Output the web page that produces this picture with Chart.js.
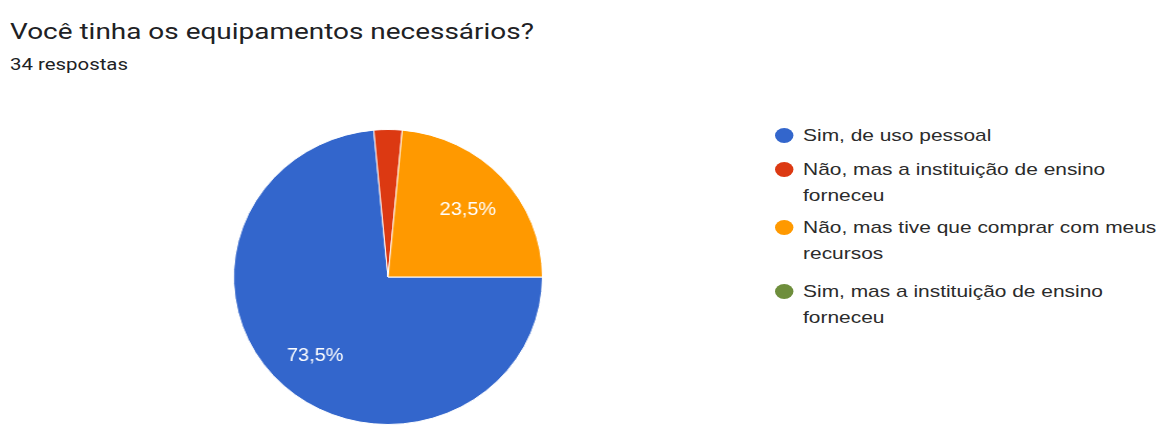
<!DOCTYPE html>
<html lang="pt">
<head>
    <meta charset="UTF-8">
    <title>Você tinha os equipamentos necessários?</title>
    <script src="https://cdn.jsdelivr.net/npm/chart.js"></script>
    <style>
        body {
            margin: 0;
            width: 1161px;
            height: 438px;
            background: #ffffff;
            position: relative;
            overflow: hidden;
            font-family: Roboto, Arial, sans-serif;
        }
        #title {
            position: absolute;
            left: 10px;
            top: 21px;
            font-size: 22px;
            line-height: 1;
            color: #202124;
            white-space: nowrap;
            transform: scaleX(1.27);
            transform-origin: left top;
        }
        #subtitle {
            position: absolute;
            left: 10px;
            top: 56px;
            font-size: 17px;
            line-height: 1;
            color: #202124;
            white-space: nowrap;
            transform: scaleX(1.2);
            transform-origin: left top;
        }
        #pieBox {
            position: absolute;
            left: 240px;
            top: 129px;
            width: 296px;
            height: 296px;
            transform: scaleX(1.047);
        }
        #legend {
            position: absolute;
            left: 775px;
            top: 123px;
            font-family: "Liberation Sans", Arial, sans-serif;
            font-size: 17px;
            color: #2b2b2b;
            line-height: 25.5px;
            white-space: nowrap;
            transform: scaleX(1.23);
            transform-origin: left top;
        }
        .item {
            position: relative;
            padding-left: 22.8px;
        }
        .item:nth-child(1) { margin-bottom: 8.5px; }
        .item:nth-child(2) { margin-bottom: 7px; }
        .item:nth-child(3) { margin-bottom: 13px; }
        .dot {
            position: absolute;
            left: 0;
            top: 5.25px;
            width: 15px;
            height: 15px;
            border-radius: 50%;
        }
    </style>
</head>
<body>

    <div id="title">Você tinha os equipamentos necessários?</div>
    <div id="subtitle">34 respostas</div>

    <div id="pieBox"><canvas id="pieChart" width="296" height="296"></canvas></div>

    <div id="legend"></div>

    <script>
        const categories = [
            "Sim, de uso pessoal",
            "Não, mas a instituição de ensino forneceu",
            "Não, mas tive que comprar com meus recursos",
            "Sim, mas a instituição de ensino forneceu"
        ];
        // legend text as wrapped in the picture
        const legendLines = [
            ["Sim, de uso pessoal"],
            ["Não, mas a instituição de ensino", "forneceu"],
            ["Não, mas tive que comprar com meus", "recursos"],
            ["Sim, mas a instituição de ensino", "forneceu"]
        ];
        const respostas = [25, 1, 8, 0];
        const cores = ["#3366cc", "#dc3912", "#ff9900", "#6e8e3c"];

        const total = respostas.reduce((a, b) => a + b, 0);

        // legend
        const legend = document.getElementById("legend");
        legendLines.forEach((lines, i) => {
            const item = document.createElement("div");
            item.className = "item";
            item.innerHTML = `<span class="dot" style="background:${cores[i]}"></span>` + lines.join("<br>");
            legend.appendChild(item);
        });

        // percent labels inside slices, like the forms summary
        const sliceLabels = {
            id: "sliceLabels",
            afterDatasetsDraw(chart) {
                const ctx = chart.ctx;
                const meta = chart.getDatasetMeta(0);
                ctx.save();
                ctx.fillStyle = "#ffffff";
                ctx.font = "19px Arial, sans-serif";
                ctx.textAlign = "center";
                ctx.textBaseline = "middle";
                meta.data.forEach((arc, i) => {
                    const share = respostas[i] / total;
                    if (share < 0.05) return;
                    const mid = (arc.startAngle + arc.endAngle) / 2;
                    const r = arc.outerRadius * 0.7;
                    const x = arc.x + Math.cos(mid) * r;
                    const y = arc.y + Math.sin(mid) * r + 2;
                    ctx.fillText((share * 100).toFixed(1).replace(".", ",") + "%", x, y);
                });
                ctx.restore();
            }
        };

        new Chart(document.getElementById("pieChart"), {
            type: "pie",
            data: {
                labels: categories,
                datasets: [{
                    data: respostas,
                    backgroundColor: cores,
                    borderColor: "#ffffff",
                    borderWidth: 1
                }]
            },
            options: {
                responsive: false,
                animation: false,
                rotation: 90,
                layout: { padding: 0 },
                plugins: {
                    legend: { display: false },
                    tooltip: { enabled: false }
                }
            },
            plugins: [sliceLabels]
        });
    </script>

</body>
</html>
